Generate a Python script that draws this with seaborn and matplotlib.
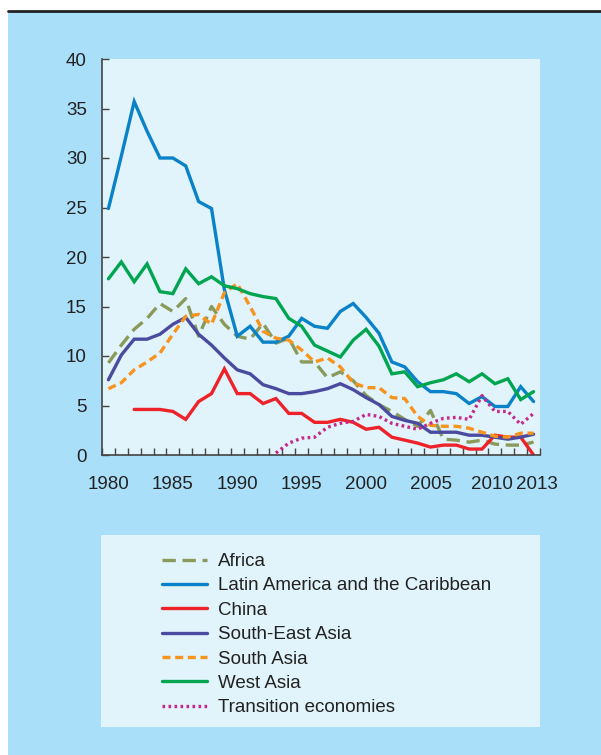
import numpy as np
import pandas as pd
import matplotlib
matplotlib.use("Agg")
import matplotlib.pyplot as plt
from matplotlib.patches import Rectangle
from matplotlib.lines import Line2D
import matplotlib.transforms as mtransforms
import seaborn as sns

years = list(range(1980, 2014))

africa = [9.3, 11.1, 12.7, 13.8, 15.3, 14.5, 15.8, 12.0, 15.0, 13.2, 12.0, 11.7, 13.3, 11.3, 11.8,
          9.4, 9.4, 7.8, 8.4, 7.5, 6.0, 5.1, 4.4, 3.6, 2.9, 4.5, 1.6, 1.5, 1.3, 1.5, 1.1, 1.0, 1.0, 1.3]
latin = [24.9, 30.2, 35.7, 32.7, 30.0, 30.0, 29.2, 25.6, 24.9, 16.7, 12.0, 13.0, 11.4, 11.4, 12.0,
         13.8, 13.0, 12.8, 14.5, 15.3, 13.9, 12.3, 9.4, 8.9, 7.4, 6.4, 6.4, 6.2, 5.2, 5.9, 4.9, 4.9, 6.9, 5.4]
china_years = list(range(1982, 2014))
china = [4.6, 4.6, 4.6, 4.4, 3.6, 5.4, 6.2, 8.7, 6.2, 6.2, 5.2, 5.7, 4.2, 4.2, 3.3, 3.3, 3.6, 3.3,
         2.6, 2.8, 1.8, 1.5, 1.2, 0.8, 1.0, 1.0, 0.6, 0.6, 2.0, 1.8, 1.8, 0.0]
se_asia = [7.6, 10.1, 11.7, 11.7, 12.2, 13.2, 13.9, 12.2, 11.1, 9.8, 8.6, 8.2, 7.1, 6.7, 6.2,
           6.2, 6.4, 6.7, 7.2, 6.6, 5.8, 5.1, 3.9, 3.5, 3.2, 2.3, 2.3, 2.3, 2.0, 2.0, 1.8, 1.6, 1.8, 2.1]
south_asia = [6.7, 7.3, 8.6, 9.4, 10.3, 12.2, 14.0, 14.2, 13.2, 16.4, 17.3, 15.0, 12.5, 11.8, 11.6,
              10.6, 9.4, 9.8, 8.9, 7.3, 6.8, 6.8, 5.8, 5.7, 3.9, 3.0, 2.9, 2.9, 2.7, 2.3, 1.9, 1.8, 2.2, 2.2]
west_asia = [17.8, 19.5, 17.5, 19.3, 16.5, 16.3, 18.8, 17.3, 18.0, 17.1, 16.8, 16.3, 16.0, 15.8, 13.8,
             13.0, 11.1, 10.5, 9.9, 11.6, 12.7, 11.0, 8.2, 8.4, 6.9, 7.3, 7.6, 8.2, 7.4, 8.2, 7.2, 7.7, 5.6, 6.4]
trans_years = list(range(1993, 2014))
transition = [0.2, 1.2, 1.7, 1.8, 2.8, 3.2, 3.4, 4.1, 3.9, 3.2, 2.9, 2.6, 3.2, 3.7, 3.8, 3.6, 6.0,
              4.4, 4.4, 3.1, 4.2]

labels = ["Africa", "Latin America and the Caribbean", "China", "South-East Asia",
          "South Asia", "West Asia", "Transition economies"]
xtick_labels = ["1980", "1985", "1990", "1995", "2000", "2005", "2010", "2013"]
ytick_vals = [0, 5, 10, 15, 20, 25, 30, 35, 40]

sns.set_theme(style="white")
plt.rcParams['font.family'] = ['Liberation Sans', 'DejaVu Sans']

fig = plt.figure(figsize=(6.01, 7.55), dpi=100)
fig.patch.set_facecolor("white")
W, H = 601, 755
outer = "#aadff9"
inner = "#e1f3fb"
fig.add_artist(Rectangle((8 / W, 0), 1, 1 - 12 / H, transform=fig.transFigure,
                         facecolor=outer, edgecolor="none", zorder=0))
fig.add_artist(Line2D([8 / W, 1], [1 - 11 / H, 1 - 11 / H], transform=fig.transFigure,
                      color="#222222", linewidth=2.0, zorder=1))
fig.add_artist(Rectangle((101 / W, 1 - 727 / H), 439 / W, 192 / H, transform=fig.transFigure,
                         facecolor=inner, edgecolor="none", zorder=1))

ax = fig.add_axes([102 / W, 1 - 455 / H, 438 / W, 396 / H])
ax.set_facecolor(inner)

series = [
    (years, africa, "#8a9a5a", (0, (4.0, 2.0))),
    (years, latin, "#0a82c8", "-"),
    (china_years, china, "#ee2229", "-"),
    (years, se_asia, "#4a4b9f", "-"),
    (years, south_asia, "#f7941d", (0, (2.4, 1.4))),
    (years, west_asia, "#00a550", "-"),
    (trans_years, transition, "#c42a8c", (0, (0.8, 1.0))),
]
handles = []
for (xs, ys, col, ls), lab in zip(series, labels):
    df = pd.DataFrame({"year": xs, "value": ys})
    sns.lineplot(data=df, x="year", y="value", ax=ax, color=col, linewidth=2.4, label=lab)
    ln = ax.lines[-1]
    ln.set_linestyle(ls)
    ln.set_solid_joinstyle("miter")
    handles.append(ln)

ax.set_xlim(1979.5, 2013.5)
ax.set_ylim(0, 40)
ax.set_xlabel("")
ax.set_ylabel("")
for s in ["top", "right"]:
    ax.spines[s].set_visible(False)
for s in ["left", "bottom"]:
    ax.spines[s].set_color("#444444")
    ax.spines[s].set_linewidth(1.2)

ax.set_yticks(ytick_vals)
ax.set_yticklabels([str(v) for v in ytick_vals])
ax.set_xticks([int(t) for t in xtick_labels])
ax.set_xticklabels(xtick_labels)
ax.set_xticks(np.arange(1979.5, 2014.0, 1.0), minor=True)
ax.tick_params(axis="x", which="major", length=0, labelsize=13.5, colors="#222222", pad=15)
ax.tick_params(axis="x", which="minor", length=5, width=1.0, direction="in", color="#444444", bottom=True)
ax.tick_params(axis="y", which="major", length=5, width=1.0, direction="in", color="#444444",
               labelsize=13.5, labelcolor="#222222", pad=11, left=True)

# nudge the last two labels apart as in the original
xl = ax.get_xticklabels()
xl[-1].set_transform(xl[-1].get_transform() + mtransforms.ScaledTranslation(3 / 100, 0, fig.dpi_scale_trans))
xl[-2].set_transform(xl[-2].get_transform() + mtransforms.ScaledTranslation(-3 / 100, 0, fig.dpi_scale_trans))

if ax.legend_:
    ax.legend_.remove()
fig.legend(handles, labels, loc="upper left", bbox_to_anchor=(162 / W, 1 - 553 / H),
           frameon=False, fontsize=13.5, handlelength=2.4, handletextpad=0.6,
           labelspacing=0.385, borderaxespad=0, borderpad=0, labelcolor="#222222")

fig.savefig("out.png", dpi=100, facecolor=fig.get_facecolor())
